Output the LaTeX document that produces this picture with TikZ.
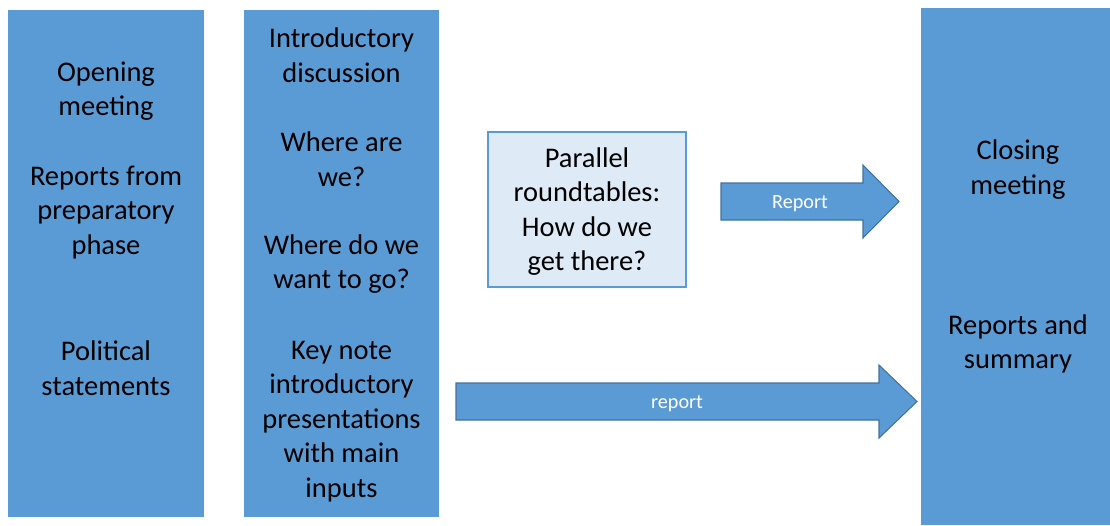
\documentclass[tikz,border=0pt]{standalone}
\usepackage{fontspec}
\setmainfont{Carlito}
\usepackage{tikz}

\definecolor{phaseblue}{RGB}{91,155,213}
\definecolor{edgeblue}{RGB}{65,113,156}
\definecolor{paleblue}{RGB}{222,235,247}

\tikzset{
	colbox/.style = {rectangle, fill=phaseblue, inner sep=0pt},
	roundbox/.style = {rectangle, fill=paleblue, draw=phaseblue, line width=0.8pt, inner sep=0pt},
	label16/.style = {align=center, font=\fontsize{16.2}{19.7}\selectfont},
	blockarrow/.style = {fill=phaseblue, draw=edgeblue, line width=0.6pt},
	arrowtext/.style = {text=white, font=\fontsize{11.5}{14}\selectfont}
}

\begin{document}
\begin{tikzpicture}[x=0.02cm, y=-0.02cm]

	\useasboundingbox (0,0) rectangle (1110,525);

	% columns
	\node[colbox, minimum width=3.92cm, minimum height=10.14cm] (opening) at (106,263.5) {};
	\node[colbox, minimum width=3.9cm, minimum height=10.14cm] (intro) at (341.5,263.5) {};
	\node[roundbox, minimum width=3.96cm, minimum height=3.1cm] (round) at (587,209.5) {};
	\node[colbox, minimum width=3.78cm, minimum height=10.34cm] (closing) at (1015.5,266.5) {};

	% texts of the first column
	\node[label16] (om) at (106,91) {Opening\\meeting};
	\node[label16] (rp) at (106,212.5) {Reports from\\preparatory\\phase};
	\node[label16] (ps) at (106,368) {Political\\statements};

	% texts of the second column
	\node[label16] (id) at (341.5,55) {Introductory\\discussion};
	\node[label16] (wa) at (341.5,159) {Where are\\we?};
	\node[label16] (wd) at (341.5,264) {Where do we\\want to go?};
	\node[label16] (kn) at (341.5,421.5) {Key note\\introductory\\presentations\\with main\\inputs};

	\node[label16] (pr) at (587,211.5) {Parallel\\roundtables:\\How do we\\get there?};

	\node[label16] (cm) at (1018,169.5) {Closing\\meeting};
	\node[label16] (rs) at (1018,344) {Reports and\\summary};

	% block arrows
	\coordinate (r1) at (721,201.5);
	\draw[blockarrow] (r1) -- ++(0,-18.5) -- ++(142,0) -- ++(0,-18) -- ++(36,36.5)
		-- ++(-36,36.5) -- ++(0,-18) -- ++(-142,0) -- cycle;
	\node[arrowtext] (rep1) at (800,203.5) {Report};

	\coordinate (r2) at (456,401.5);
	\draw[blockarrow] (r2) -- ++(0,-18.5) -- ++(423,0) -- ++(0,-18) -- ++(38,36.5)
		-- ++(-38,36.5) -- ++(0,-18) -- ++(-423,0) -- cycle;
	\node[arrowtext] (rep2) at (677,403.5) {report};

\end{tikzpicture}
\end{document}
